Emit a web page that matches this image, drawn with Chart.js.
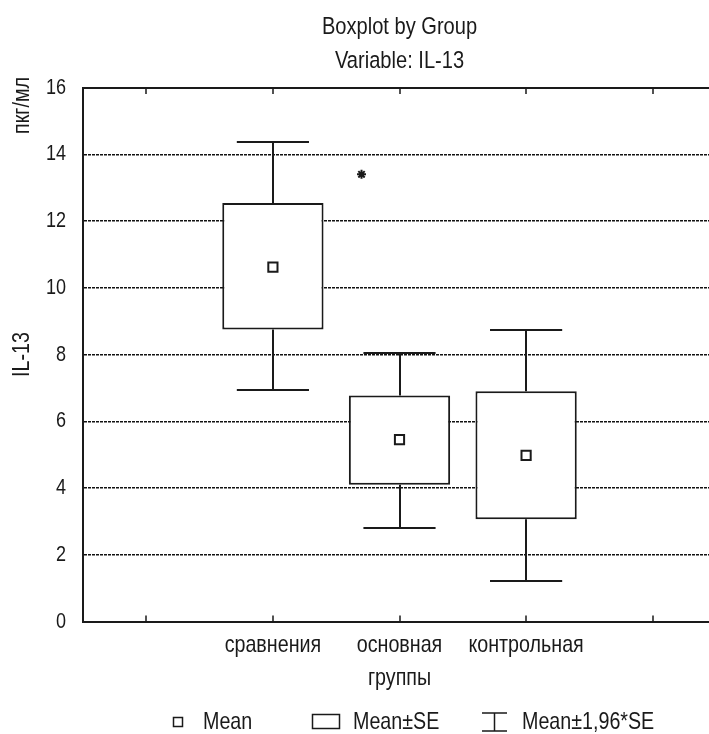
<!DOCTYPE html>
<html>
<head>
<meta charset="utf-8">
<script src="https://cdn.jsdelivr.net/npm/chart.js@4.4.1/dist/chart.umd.min.js"></script>
<style>
  html, body { margin: 0; padding: 0; background: #fff; overflow: hidden; }
  #wrap { width: 730px; height: 734px; }
</style>
</head>
<body>
<div id="wrap"><canvas id="chart" width="730" height="734"></canvas></div>
<script>
// IL-13 boxplot by group (Statistica style): mean, mean±SE, mean±1.96*SE
const groups = ['сравнения', 'основная', 'контрольная'];
const slotLabels = ['', 'сравнения', 'основная', 'контрольная', ''];
const means = [10.62, 5.45, 4.98];
const seLow = [8.75, 4.10, 3.06];
const seHigh = [12.54, 6.77, 6.90];
const ciLow = [6.93, 2.81, 1.21];
const ciHigh = [14.36, 8.04, 8.73];
const outliers = [{ x: 1.7, y: 13.4 }];
const yTicks = [0, 2, 4, 6, 8, 10, 12, 14, 16];
const legendLabels = ['Mean', 'Mean±SE', 'Mean±1,96*SE'];

const FONT = '"Liberation Sans", Arial, sans-serif';
const INK = '#1a1a1a';

// no narrow font installed: squeeze text horizontally like Arial Narrow
const canvas = document.getElementById('chart');
const c2d = canvas.getContext('2d');
const NARROW = 0.82;
const rawFill = c2d.fillText.bind(c2d);
const rawMeasure = c2d.measureText.bind(c2d);
c2d.fillText = function (text, x, y, maxWidth) {
  this.save();
  this.translate(x, y);
  this.scale(NARROW, 1);
  if (maxWidth === undefined) rawFill(text, 0, 0);
  else rawFill(text, 0, 0, maxWidth / NARROW);
  this.restore();
};
c2d.measureText = function (text) {
  const m = rawMeasure(text);
  return {
    width: m.width * NARROW,
    actualBoundingBoxAscent: m.actualBoundingBoxAscent,
    actualBoundingBoxDescent: m.actualBoundingBoxDescent,
    actualBoundingBoxLeft: m.actualBoundingBoxLeft * NARROW,
    actualBoundingBoxRight: m.actualBoundingBoxRight * NARROW,
  };
};

// whiskers (mean ± 1.96*SE) with caps
const whiskerPlugin = {
  id: 'whiskers',
  beforeDatasetsDraw(chart) {
    const { ctx, scales: { x, y } } = chart;
    ctx.save();
    ctx.strokeStyle = INK;
    ctx.lineWidth = 2;
    groups.forEach((g, i) => {
      const cx = Math.round(x.getPixelForValue(i + 1));
      const l = x.getPixelForValue(i + 1 - 0.285);
      const r = x.getPixelForValue(i + 1 + 0.285);
      const yTop = Math.round(y.getPixelForValue(ciHigh[i]));
      const yBot = Math.round(y.getPixelForValue(ciLow[i]));
      ctx.beginPath();
      ctx.moveTo(cx, y.getPixelForValue(seHigh[i])); ctx.lineTo(cx, yTop);
      ctx.moveTo(l, yTop); ctx.lineTo(r, yTop);
      ctx.moveTo(cx, y.getPixelForValue(seLow[i])); ctx.lineTo(cx, yBot);
      ctx.moveTo(l, yBot); ctx.lineTo(r, yBot);
      ctx.stroke();
    });
    ctx.restore();
  }
};

// top frame line and inward tick marks on top/bottom
const framePlugin = {
  id: 'frame',
  beforeDatasetsDraw(chart) {
    const { ctx, chartArea: a, scales: { x, y } } = chart;
    const top = Math.round(y.getPixelForValue(yTicks[yTicks.length - 1]));
    ctx.save();
    ctx.strokeStyle = INK;
    ctx.lineWidth = 2;
    ctx.beginPath();
    ctx.moveTo(a.left - 1, top); ctx.lineTo(a.right, top);
    ctx.stroke();
    ctx.lineWidth = 1.5;
    ctx.beginPath();
    x.ticks.forEach(t => {
      const px = Math.round(x.getPixelForValue(t.value));
      ctx.moveTo(px, top); ctx.lineTo(px, top + 6);
      ctx.moveTo(px, a.bottom); ctx.lineTo(px, a.bottom - 6);
    });
    ctx.stroke();
    ctx.restore();
  }
};

// unit label and the Statistica-style legend
const extrasPlugin = {
  id: 'extras',
  afterDraw(chart) {
    const { ctx } = chart;
    ctx.save();
    ctx.fillStyle = INK;
    ctx.font = '24px ' + FONT;
    ctx.textBaseline = 'middle';

    ctx.save();
    ctx.translate(22, 77);
    ctx.rotate(-Math.PI / 2);
    ctx.textAlign = 'right';
    ctx.fillText('пкг/мл', 0, 0);
    ctx.restore();

    const cy = 722;
    ctx.strokeStyle = INK;
    ctx.lineWidth = 1.5;
    ctx.textAlign = 'left';

    // mean marker
    ctx.fillStyle = '#fff';
    ctx.fillRect(173.5, cy - 4.5, 9, 9);
    ctx.strokeRect(173.5, cy - 4.5, 9, 9);
    ctx.fillStyle = INK;
    ctx.fillText(legendLabels[0], 203, cy);

    // box
    ctx.strokeRect(312.5, cy - 7.5, 27, 14);
    ctx.fillText(legendLabels[1], 353, cy);

    // whisker
    ctx.beginPath();
    ctx.moveTo(482, cy - 9); ctx.lineTo(507, cy - 9);
    ctx.moveTo(494.5, cy - 9); ctx.lineTo(494.5, cy + 9);
    ctx.moveTo(482, cy + 9); ctx.lineTo(507, cy + 9);
    ctx.stroke();
    ctx.fillText(legendLabels[2], 522, cy);
    ctx.restore();
  }
};

new Chart(canvas, {
  type: 'bar',
  data: {
    datasets: [
      {
        type: 'scatter',
        label: 'Mean',
        data: groups.map((g, i) => ({ x: i + 1, y: means[i] })),
        pointStyle: 'rect',
        pointRadius: 6.5,
        backgroundColor: '#fff',
        borderColor: INK,
        borderWidth: 2,
        order: 0,
      },
      {
        type: 'scatter',
        label: 'Outliers',
        data: outliers,
        pointStyle: 'star',
        pointRadius: 4.5,
        borderColor: INK,
        borderWidth: 2,
        order: 0,
      },
      {
        type: 'bar',
        label: 'Mean±SE',
        data: groups.map((g, i) => ({ x: i + 1, y: [seLow[i], seHigh[i]] })),
        backgroundColor: '#fff',
        borderColor: INK,
        borderWidth: 2,
        borderSkipped: false,
        barPercentage: 0.8,
        categoryPercentage: 1,
        order: 2,
      },
    ],
  },
  options: {
    responsive: false,
    animation: false,
    layout: { padding: { top: 0, left: 0, right: 14, bottom: 40 } },
    plugins: {
      legend: { display: false },
      tooltip: { enabled: false },
      title: {
        display: true,
        fullSize: false,
        text: ['Boxplot by Group', 'Variable: IL-13'],
        color: INK,
        font: { family: FONT, size: 24.5, weight: 'normal', lineHeight: 1.388 },
        padding: { top: 10, bottom: 9.5 },
      },
    },
    scales: {
      x: {
        type: 'linear',
        offset: false,
        min: -0.5,
        max: 4.5,
        afterBuildTicks: s => { s.ticks = slotLabels.map((l, i) => ({ value: i })); },
        afterFit: s => { s.height = 72.5; },
        ticks: {
          callback: v => slotLabels[v] ?? '',
          color: INK,
          font: { family: FONT, size: 24 },
          padding: 1.5,
          autoSkip: false,
          maxRotation: 0,
        },
        grid: { display: false },
        border: { color: INK, width: 2 },
        title: {
          display: true,
          text: 'группы',
          color: INK,
          font: { family: FONT, size: 24 },
          padding: { top: 0, bottom: 1 },
        },
      },
      y: {
        min: 0,
        max: 16,
        afterBuildTicks: s => { s.ticks = yTicks.map(v => ({ value: v })); },
        afterFit: s => { s.width = 83; },
        ticks: {
          color: INK,
          font: { family: FONT, size: 22 },
          padding: 17,
        },
        grid: {
          color: c => (c.tick && (c.tick.value === 0 || c.tick.value === 16)) ? 'rgba(0,0,0,0)' : '#111',
          lineWidth: 1.5,
          drawTicks: false,
        },
        border: { color: INK, width: 2, dash: [3, 1] },
        title: {
          display: true,
          text: 'IL-13',
          color: INK,
          font: { family: FONT, size: 24 },
          padding: { top: 7.5, bottom: 0 },
        },
      },
    },
  },
  plugins: [framePlugin, whiskerPlugin, extrasPlugin],
});
</script>
</body>
</html>
